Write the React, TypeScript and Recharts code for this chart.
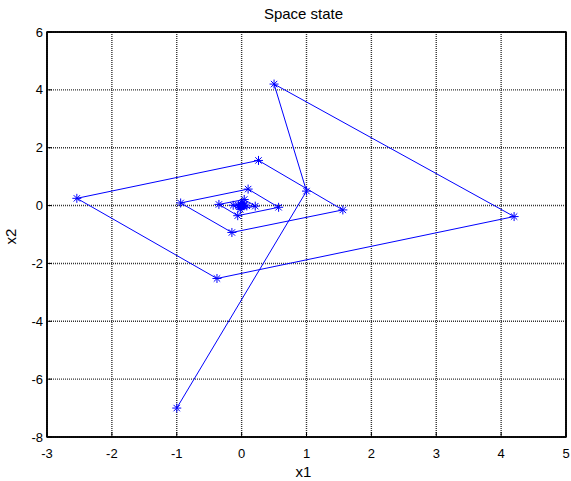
import React from "react";
import {
  ScatterChart,
  Scatter,
  XAxis,
  YAxis,
  CartesianGrid,
  ReferenceArea,
} from "recharts";

// state trajectory in order
const x1Values = [
  -1, 1, 0.5, 4.2, -0.38, -2.54, 0.26, 1.56, -0.15, -0.94, 0.1, 0.57, -0.06, -0.35,
  0.04, 0.21, -0.02, -0.13, 0.01, 0.08, -0.01, -0.05, 0.0, 0.03, 0.0, -0.02, 0.0, 0.01,
];
const x2Values = [
  -7, 0.5, 4.2, -0.38, -2.52, 0.25, 1.56, -0.15, -0.93, 0.09, 0.57, -0.06, -0.35, 0.04,
  0.21, -0.02, -0.13, 0.01, 0.08, -0.01, -0.05, 0.0, 0.03, 0.0, -0.02, 0.0, 0.01, 0.0,
];
const xTicks = [-3, -2, -1, 0, 1, 2, 3, 4, 5];
const yTicks = [-8, -6, -4, -2, 0, 2, 4, 6];

const chartTitle = "Space state";
const xLabel = "x1";
const yLabel = "x2";

const FONT = '"Liberation Sans", Arial, Helvetica, sans-serif';
const BLUE = "#0000ff";

const points = x1Values.map((x, i) => ({ x1: x, x2: x2Values[i] }));

function Asterisk(props: any) {
  const { cx, cy } = props;
  if (cx == null || cy == null) return null;
  const r = 4.5;
  const d = 3.2;
  return (
    <g stroke={BLUE} strokeWidth={1}>
      <line x1={cx - r} y1={cy} x2={cx + r} y2={cy} />
      <line x1={cx} y1={cy - r} x2={cx} y2={cy + r} />
      <line x1={cx - d} y1={cy - d} x2={cx + d} y2={cy + d} />
      <line x1={cx - d} y1={cy + d} x2={cx + d} y2={cy - d} />
    </g>
  );
}

const tickStyle = { fontSize: 13, fill: "#000", fontFamily: FONT };

export default function App() {
  return (
    <div style={{ position: "relative", width: 571, height: 481, background: "#fff" }}>
      <style>{"body{margin:0}"}</style>
      <div
        style={{
          position: "absolute",
          left: 47,
          width: 513,
          top: 5,
          textAlign: "center",
          fontFamily: FONT,
          fontSize: 15,
          lineHeight: "18px",
          color: "#000",
        }}
      >
        {chartTitle}
      </div>
      <ScatterChart
        width={571}
        height={481}
        margin={{ top: 32, right: 5, bottom: 0, left: 0 }}
        style={{ position: "absolute", left: 0, top: 0 }}
      >
        <CartesianGrid stroke="#333" strokeDasharray="1 1" strokeWidth={1.4} />
        <XAxis
          type="number"
          dataKey="x1"
          domain={[-3, 5]}
          ticks={xTicks}
          height={44}
          tick={tickStyle}
          tickSize={-5}
          tickMargin={17}
          tickLine={{ stroke: "#000" }}
          axisLine={{ stroke: "#000", strokeWidth: 1.5 }}
          allowDataOverflow
          label={({ viewBox }: any) => (
            <text
              x={viewBox.x + viewBox.width / 2 - 3}
              y={viewBox.y + 40}
              textAnchor="middle"
              fontSize={15}
              fontFamily={FONT}
              fill="#000"
            >
              {xLabel}
            </text>
          )}
        />
        <YAxis
          type="number"
          dataKey="x2"
          domain={[-8, 6]}
          ticks={yTicks}
          width={47}
          tick={tickStyle}
          tickSize={-5}
          tickMargin={9}
          tickLine={{ stroke: "#000" }}
          axisLine={{ stroke: "#000", strokeWidth: 1.5 }}
          allowDataOverflow
          label={({ viewBox }: any) => {
            const lx = viewBox.x + 12;
            const ly = viewBox.y + viewBox.height / 2 + 2;
            return (
              <text
                x={lx}
                y={ly}
                transform={`rotate(-90 ${lx} ${ly})`}
                textAnchor="middle"
                dominantBaseline="middle"
                fontSize={15}
                fontFamily={FONT}
                fill="#000"
              >
                {yLabel}
              </text>
            );
          }}
        />
        <XAxis
          xAxisId="top"
          orientation="top"
          type="number"
          domain={[-3, 5]}
          ticks={xTicks}
          mirror
          tick={false}
          tickSize={5}
          tickLine={{ stroke: "#000" }}
          axisLine={{ stroke: "#000", strokeWidth: 1.5 }}
        />
        <YAxis
          yAxisId="right"
          orientation="right"
          type="number"
          domain={[-8, 6]}
          ticks={yTicks}
          mirror
          tick={false}
          tickSize={5}
          tickLine={{ stroke: "#000" }}
          axisLine={{ stroke: "#000", strokeWidth: 1.5 }}
        />
        <ReferenceArea
          x1={-3}
          x2={5}
          y1={-8}
          y2={6}
          fill="none"
          stroke="#000"
          strokeWidth={1.5}
          ifOverflow="visible"
        />
        <Scatter
          data={points}
          line={{ stroke: BLUE, strokeWidth: 1 }}
          lineType="joint"
          shape={<Asterisk />}
          fill={BLUE}
          isAnimationActive={false}
        />
      </ScatterChart>
    </div>
  );
}
